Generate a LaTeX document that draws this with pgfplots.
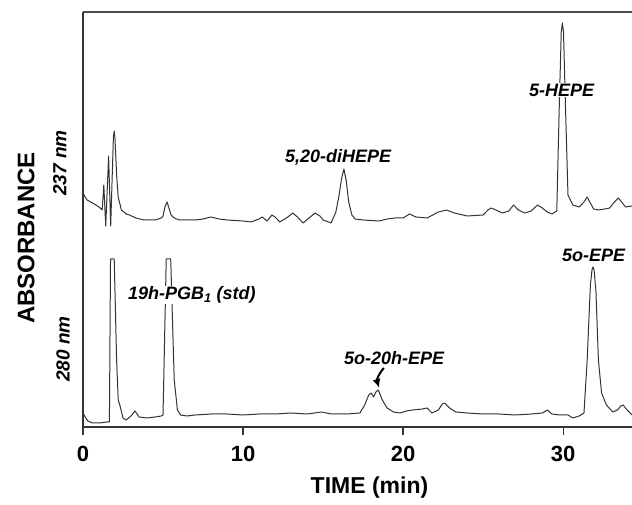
\documentclass[border=0pt]{standalone}
\usepackage{pgfplots}
\pgfplotsset{compat=1.18}
\usepackage{fontspec}
\setmainfont{Liberation Sans}
\usetikzlibrary{arrows.meta}

\tikzset{peak/.style={fill=white, inner sep=1pt,
                      font=\fontsize{18}{20}\selectfont\bfseries\itshape}}

\begin{document}
\begin{tikzpicture}
\useasboundingbox (-83pt,-78pt) rectangle (549pt,427pt);
\begin{axis}[
    scale only axis,
    width=549pt, height=415pt,
    xmin=0, xmax=34.3, ymin=0, ymax=415,
    axis x line=bottom, axis y line=left,
    axis line style={-, line width=1.3pt, black!80},
    xtick={0,10,20,30}, ytick=\empty,
    tick align=outside, major tick length=8pt,
    tick style={line width=1.3pt, black!80},
    xticklabel style={font=\fontsize{22}{24}\selectfont\bfseries, yshift=-8pt},
    /pgf/number format/assume math mode=true,
    clip=false,
]

% 237 nm trace
\addplot[line width=1pt, black!80, line join=round] coordinates {
 (0,234) (0.1,231) (0.25,227) (0.6,224) (1.0,220) (1.2,217) (1.3,242) (1.42,201)
 (1.6,271) (1.73,201) (1.9,290) (1.95,296) (2.0,288) (2.1,252) (2.2,230) (2.4,217)
 (2.7,213) (2.9,212) (3.3,209) (3.8,207) (4.5,207) (4.9,209) (5.0,211) (5.12,220)
 (5.25,225) (5.35,220) (5.5,212) (5.7,209) (6.0,207) (7.0,207) (7.5,208) (8.0,210)
 (8.5,208) (9.0,207) (10.0,206) (10.5,205) (11.0,208) (11.2,210) (11.5,206) (11.8,212)
 (12.0,210) (12.3,205) (12.8,210) (13.1,214) (13.4,210) (13.75,204) (14.2,210)
 (14.5,214) (14.8,211) (15.0,207) (15.5,204) (15.8,215) (16.0,232) (16.15,248)
 (16.3,258) (16.45,246) (16.6,225) (16.8,212) (17.0,208) (17.5,207) (18.5,206)
 (19.0,208) (19.5,209) (20.0,209) (20.4,213) (20.8,210) (21.5,209) (22.2,215)
 (22.7,217) (23.2,214) (24.0,211) (25.0,212) (25.3,217) (25.5,219) (25.8,217)
 (26.2,214) (26.6,216) (26.9,222) (27.2,217) (27.6,214) (28.0,216) (28.4,222)
 (28.7,219) (29.0,215) (29.3,213) (29.6,216) (29.75,317) (29.88,395) (29.95,404)
 (30.02,395) (30.15,317) (30.3,232) (30.6,222) (31.0,220) (31.3,225) (31.5,230)
 (31.7,224) (31.9,218) (32.2,217) (32.6,218) (32.9,219) (33.2,225) (33.45,229)
 (33.7,224) (33.9,220) (34.3,221)
};

% 280 nm trace
\addplot[line width=1pt, black!80, line join=round] coordinates {
 (0,14) (0.1,11) (0.3,6) (0.6,4) (1.0,4) (1.5,5) (1.65,5) (1.72,168) (1.95,168)
 (2.1,67) (2.2,27) (2.3,22) (2.5,9) (2.7,7) (3.0,11) (3.25,16) (3.5,10) (4.0,9)
 (4.5,10) (4.9,11) (5.0,12) (5.2,168) (5.48,168) (5.7,47) (5.9,17) (6.1,12)
 (6.5,11) (7.0,12) (8.0,13) (9.0,13) (10.0,12) (11.0,13) (12.0,13) (13.0,14)
 (14.0,13) (14.9,15) (15.5,13) (16.5,13) (17.3,14) (17.6,22) (17.85,32) (18.0,34)
 (18.15,30) (18.3,35) (18.45,37) (18.7,27) (19.0,19) (19.4,15) (19.8,14) (20.2,16)
 (20.6,17) (21.2,18) (21.5,19) (21.8,14) (22.2,17) (22.45,23) (22.6,24) (22.9,19)
 (23.3,15) (24.0,14) (25.0,13) (26.0,13) (27.0,12) (28.0,13) (28.7,14) (29.0,17)
 (29.3,13) (29.8,12) (30.3,12) (30.6,9) (31.0,11) (31.3,14) (31.5,67) (31.7,142)
 (31.8,157) (31.86,160) (31.93,157) (32.05,135) (32.2,67) (32.4,34) (32.7,22)
 (33.1,15) (33.4,17) (33.6,21) (33.75,22) (34.0,17) (34.3,12)
};

% top frame line
\draw[line width=1.2pt, black!70] (rel axis cs:0,1) -- (rel axis cs:1,1);

% peak labels
\node[peak] at (axis cs:15.94,270) {5,20-diHEPE};
\node[peak] at (axis cs:29.9,337) {5-HEPE};
\node[peak] at (axis cs:6.8,132) {19h-PGB\textsubscript{1} (std)};
\node[peak] at (axis cs:19.44,69) {5o-20h-EPE};
\node[peak] at (axis cs:31.9,172) {5o-EPE};
\draw[line width=2pt, -{Latex[length=9pt,width=8pt]}]
    (axis cs:18.8,59) to[bend right=30] (axis cs:18.5,39);

% channel and axis labels
\node[rotate=90, font=\fontsize{19}{21}\selectfont\bfseries\itshape]
    at (axis cs:-1.44,264) {237 nm};
\node[rotate=90, font=\fontsize{19}{21}\selectfont\bfseries\itshape]
    at (axis cs:-1.25,78) {280 nm};
\node[rotate=90, font=\fontsize{24}{26}\selectfont\bfseries]
    at (axis cs:-3.56,189) {ABSORBANCE};
\node[font=\fontsize{23}{25}\selectfont\bfseries]
    at (axis cs:17.9,-61) {TIME (min)};

\end{axis}
\end{tikzpicture}
\end{document}
